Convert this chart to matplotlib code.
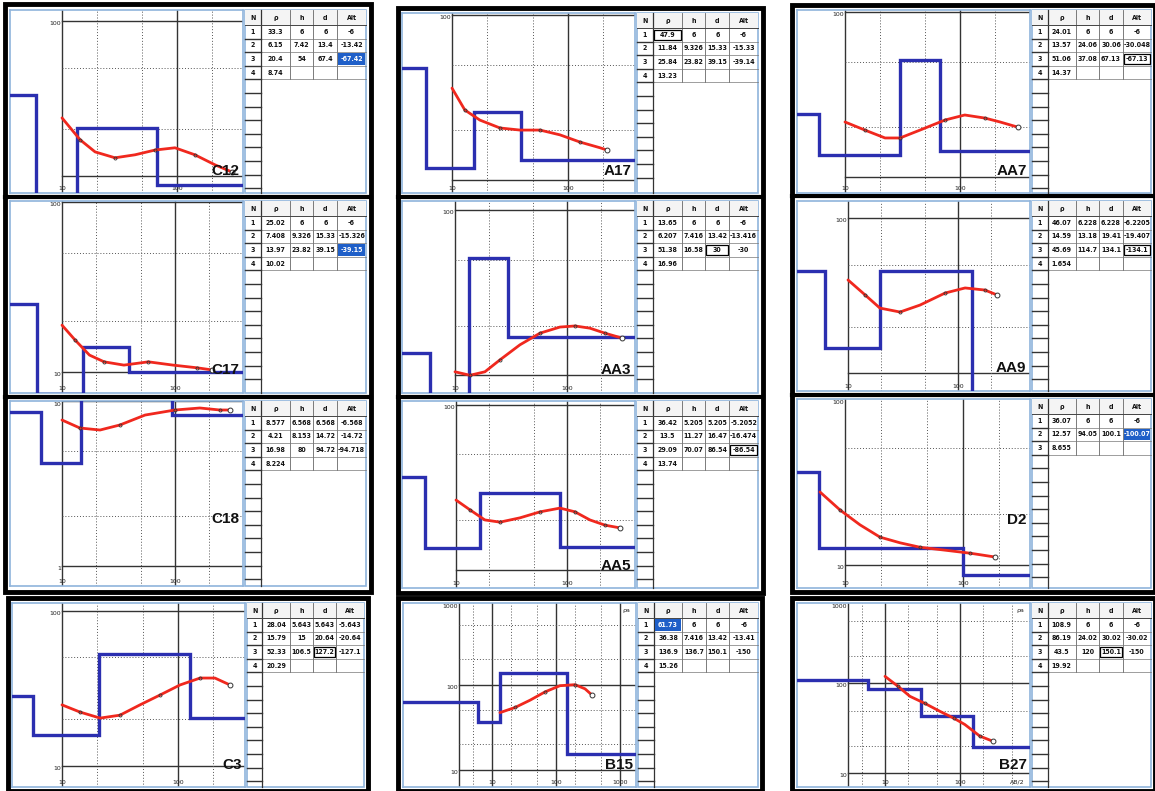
import numpy as np
import matplotlib
matplotlib.use("Agg")
import matplotlib.pyplot as plt
from matplotlib.transforms import blended_transform_factory as btf

W, H = 1155, 791

# ---------------- data ----------------
C12_rho = [33.3, 6.15, 20.4, 8.74]
C12_h = [6, 7.42, 54]
C12_d = [6, 13.4, 67.4]
C12_alt = [-6, -13.42, -67.42]
C12_ab2 = [10, 14.4, 19.4, 28.9, 43.2, 64.4, 96, 143, 214, 301]
C12_rhoa = [23.7, 17.1, 14.3, 13.1, 13.7, 14.7, 15.2, 13.7, 11.8, 10.6]

C17_rho = [25.02, 7.408, 13.97, 10.02]
C17_h = [6, 9.326, 23.82]
C17_d = [6, 15.33, 39.15]
C17_alt = [-6, -15.326, -39.15]
C17_ab2 = [10, 13.0, 17.5, 23.6, 35.3, 58.1, 96, 158, 214]
C17_rhoa = [18.9, 15.5, 12.6, 11.5, 11.0, 11.5, 11.0, 10.6, 10.3]

C18_rho = [8.577, 4.21, 16.98, 8.224]
C18_h = [6.568, 8.153, 80]
C18_d = [6.568, 14.72, 94.72]
C18_alt = [-6.568, -14.72, -94.718]
C18_ab2 = [10, 14.4, 21.7, 32.6, 54.3, 100, 166, 250, 307]
C18_rhoa = [7.67, 6.86, 6.67, 7.16, 8.22, 8.82, 9.07, 8.82, 8.82]

A17_rho = [47.9, 11.84, 25.84, 13.23]
A17_h = [6, 9.326, 23.82]
A17_d = [6, 15.33, 39.15]
A17_alt = [-6, -15.33, -39.14]
A17_ab2 = [10, 12.9, 17.4, 25.9, 38.6, 57.4, 85.3, 127, 189, 217]
A17_rhoa = [36.1, 26.6, 23.1, 20.7, 20.1, 20.1, 18.8, 17.0, 15.7, 15.2]

AA3_rho = [13.65, 6.207, 51.38, 16.96]
AA3_h = [6, 7.416, 16.58]
AA3_d = [6, 13.42, 30]
AA3_alt = [-6, -13.416, -30]
AA3_ab2 = [10, 13.6, 18.5, 25.2, 38.0, 57.4, 86.5, 118, 160, 218, 310]
AA3_rhoa = [10.5, 10.0, 10.5, 12.4, 15.3, 18.0, 19.6, 19.9, 19.3, 18.0, 16.8]

AA5_rho = [36.42, 13.5, 29.09, 13.74]
AA5_h = [5.205, 11.27, 70.07]
AA5_d = [5.205, 16.47, 86.54]
AA5_alt = [-5.2052, -16.474, -86.54]
AA5_ab2 = [10, 13.4, 18.2, 24.9, 37.7, 57.2, 86.5, 118, 161, 220, 300]
AA5_rhoa = [26.4, 23.0, 20.0, 19.4, 20.6, 22.4, 23.6, 22.4, 20.0, 18.6, 17.9]

AA7_rho = [24.01, 13.57, 51.06, 14.37]
AA7_h = [6, 24.06, 37.08]
AA7_d = [6, 30.06, 67.13]
AA7_alt = [-6, -30.048, -67.13]
AA7_ab2 = [10, 14.9, 22.3, 30.1, 44.9, 74.1, 110, 165, 223, 319]
AA7_rhoa = [21.5, 19.2, 17.2, 17.2, 19.2, 22.1, 23.7, 22.7, 21.5, 20.0]

AA9_rho = [46.07, 14.59, 45.69, 1.654]
AA9_h = [6.228, 13.18, 114.7]
AA9_d = [6.228, 19.41, 134.1]
AA9_alt = [-6.2205, -19.407, -134.1]
AA9_ab2 = [10, 14.3, 19.5, 29.7, 45.1, 76.2, 116, 176, 226]
AA9_rhoa = [40.1, 32.1, 26.4, 24.9, 27.6, 33.0, 35.6, 34.5, 32.1]

D2_rho = [36.07, 12.57, 8.655]
D2_h = [6, 94.05]
D2_d = [6, 100.1]
D2_alt = [-6, -100.07]
D2_ab2 = [6.14, 9.1, 13.4, 19.8, 29.3, 43.2, 70.4, 115, 187]
D2_rhoa = [27.2, 21.2, 17.3, 14.6, 13.5, 12.7, 12.2, 11.7, 11.1]

C3_rho = [28.04, 15.79, 52.33, 20.29]
C3_h = [5.643, 15, 106.5]
C3_d = [5.643, 20.64, 127.2]
C3_alt = [-5.643, -20.64, -127.1]
C3_ab2 = [10, 14.3, 21.3, 31.6, 47.0, 70.0, 104, 155, 208, 281]
C3_rhoa = [24.7, 22.2, 20.3, 21.2, 24.7, 28.6, 33.2, 36.8, 36.8, 33.2]

B15_rho = [61.73, 36.38, 136.9, 15.26]
B15_h = [6, 7.416, 136.7]
B15_d = [6, 13.42, 150.1]
B15_alt = [-6, -13.41, -150.0]
B15_ab2 = [13.3, 22.9, 39.2, 67.3, 115, 198, 284, 365]
B15_rhoa = [46.9, 53.9, 65.6, 82.2, 97.2, 100, 89.4, 75.5]

B27_rho = [108.9, 86.19, 43.5, 19.92]
B27_h = [6, 24.02, 120]
B27_d = [6, 30.02, 150.1]
B27_alt = [-6, -30.02, -150.0]
B27_ab2 = [10, 14.9, 21.5, 34.1, 54.1, 83.2, 116, 184, 275]
B27_rhoa = [120, 93, 72, 60, 49, 41, 35, 26, 22.8]

TABLE_HEAD = ["N", "\u03c1", "h", "d", "Alt"]

# ---------------- layout (pixels) ----------------
PANELS = [
    dict(name="C12", data="C12", box=(8, 8, 368, 195), x10=62, dx=115, yref=33.3, ypx=95, dy=155, hi=(3, 4, "fill")),
    dict(name="C17", data="C17", box=(8, 199, 368, 395), x10=62, dx=113, yref=10.02, ypx=372, dy=170, hi=(3, 4, "fill")),
    dict(name="C18", data="C18", box=(8, 399, 368, 588), x10=62, dx=113, yref=4.21, ypx=463, dy=165, hi=None),
    dict(name="A17", data="A17", box=(400, 11, 760, 195), x10=452, dx=116, yref=11.84, ypx=168, dy=165, hi=(1, 1, "box")),
    dict(name="AA3", data="AA3", box=(400, 199, 760, 395), x10=455, dx=112, yref=51.38, ypx=258, dy=165, hi=(3, 3, "box")),
    dict(name="AA5", data="AA5", box=(400, 399, 760, 590), x10=456, dx=111, yref=36.42, ypx=477, dy=165, hi=(3, 4, "box")),
    dict(name="AA7", data="AA7", box=(795, 8, 1153, 195), x10=845, dx=115, yref=51.06, ypx=60, dy=165, hi=(3, 4, "box")),
    dict(name="AA9", data="AA9", box=(795, 199, 1153, 393), x10=848, dx=110, yref=14.59, ypx=348, dy=155, hi=(3, 4, "box")),
    dict(name="D2", data="D2", box=(795, 397, 1153, 590), x10=845, dx=118, yref=12.57, ypx=548, dy=167, hi=(2, 4, "fill")),
    dict(name="C3", data="C3", box=(10, 601, 366, 789), x10=62, dx=116, yref=15.79, ypx=735, dy=155, hi=(3, 3, "box")),
    dict(name="B15", data="B15", box=(401, 601, 760, 789), x10=492, dx=64, yref=36.38, ypx=722, dy=85,
         hi=(1, 1, "fill"), gx0=3.0, axlab=("\u03c1a", None)),
    dict(name="B27", data="B27", box=(795, 601, 1153, 789), x10=885, dx=75, yref=53.4, ypx=708, dy=90,
         hi=(3, 3, "box"), gx0=3.2, axlab=("\u03c1a", "AB/2")),
]
LABEL_POS = {"C18": 0.36, "D2": 0.36}
BLACK_BOXES = [(5, 4, 371, 592), (398, 8, 763, 593), (792, 5, 1155, 592),
               (8, 598, 368, 791), (398, 598, 762, 791), (792, 598, 1155, 791)]
SEPARATORS = [(5, 371, 197), (5, 371, 397), (398, 763, 197), (398, 763, 397),
              (792, 1155, 196), (792, 1155, 395)]

BLUE = "#2b2fb0"
RED = "#f0281e"
FRAME = "#8fb4dc"
HILITE = "#1f5fc8"

fig = plt.figure(figsize=(W / 100, H / 100), dpi=100)
fig.patch.set_facecolor("white")

over = fig.add_axes([0, 0, 1, 1], zorder=0)
over.set_xlim(0, W)
over.set_ylim(H, 0)
over.axis("off")

TFONT = dict(family=["Liberation Sans Narrow", "DejaVu Sans"], fontstretch="condensed",
             fontweight="bold", fontsize=5.0, color="#111111")
SMALL = dict(fontsize=4.5, color="#222222", family=["DejaVu Sans"])


def fmt(v):
    return f"{v:g}"


def draw_table(x0, y0, x1, y1, rho, h, d, alt, hi):
    over.add_patch(plt.Rectangle((x0, y0), x1 - x0, y1 - y0, fc="white", ec=FRAME, lw=1.2, zorder=1))
    widths = np.array([16, 29, 24, 24, 29], float)
    widths = widths / widths.sum() * (x1 - x0)
    edges = x0 + np.concatenate([[0], np.cumsum(widths)])
    hh = 15.0
    rh = 13.6
    nrow = len(rho)
    over.add_patch(plt.Rectangle((x0, y0), x1 - x0, hh, fc="#f4f4f4", ec="none", zorder=1.5))
    for j, t in enumerate(TABLE_HEAD):
        over.text((edges[j] + edges[j + 1]) / 2, y0 + hh / 2 + 0.5, t, ha="center", va="center", zorder=3, **TFONT)
    ybot = y0 + hh + rh * nrow
    for j in range(2, 5):
        over.plot([edges[j], edges[j]], [y0, ybot], color="#666666", lw=0.6, zorder=2)
    over.plot([edges[1], edges[1]], [y0, y1], color="#333333", lw=0.9, zorder=2)
    over.plot([x0, x1], [y0 + hh, y0 + hh], color="#444444", lw=0.7, zorder=2)
    i = 1
    while y0 + hh + rh * i < y1 - 2:
        yy = y0 + hh + rh * i
        if i <= nrow:
            over.plot([x0, x1], [yy, yy], color="#777777", lw=0.5, zorder=2)
        over.plot([x0, edges[1]], [yy, yy], color="#333333", lw=1.0, zorder=2)
        i += 1
    cols = [rho, h, d, alt]
    for i in range(nrow):
        yc = y0 + hh + rh * (i + 0.5)
        over.text((edges[0] + edges[1]) / 2, yc, str(i + 1), ha="center", va="center", zorder=3, **TFONT)
        for j, col in enumerate(cols):
            if i < len(col):
                style = None
                if hi is not None and hi[0] == i + 1 and hi[1] == j + 1:
                    style = hi[2]
                f = dict(TFONT)
                if style == "fill":
                    over.add_patch(plt.Rectangle((edges[j + 1] + 1, yc - rh / 2 + 1), widths[j + 1] - 2, rh - 2,
                                                 fc=HILITE, ec="none", zorder=2.5))
                    f["color"] = "white"
                elif style == "box":
                    over.add_patch(plt.Rectangle((edges[j + 1] + 1, yc - rh / 2 + 1.5), widths[j + 1] - 2, rh - 3,
                                                 fc="none", ec="black", lw=0.9, zorder=2.5))
                over.text((edges[j + 1] + edges[j + 2]) / 2, yc, fmt(col[i]), ha="center", va="center",
                          zorder=3, **f)


def draw_panel(p):
    g = globals()
    key = p["data"]
    rho, h, d, alt = g[key + "_rho"], g[key + "_h"], g[key + "_d"], g[key + "_alt"]
    ab2, rhoa = g[key + "_ab2"], g[key + "_rhoa"]
    bx0, by0, bx1, by1 = p["box"]
    px0, py0, px1, py1 = bx0 + 2, by0 + 2, bx0 + 235, by1 - 2
    ax = fig.add_axes([px0 / W, 1 - py1 / H, (px1 - px0) / W, (py1 - py0) / H], zorder=2)
    ax.set_xscale("log")
    ax.set_yscale("log")
    xl = (10 ** (1 + (px0 - p["x10"]) / p["dx"]), 10 ** (1 + (px1 - p["x10"]) / p["dx"]))
    yl = (p["yref"] * 10 ** ((p["ypx"] - py1) / p["dy"]), p["yref"] * 10 ** ((p["ypx"] - py0) / p["dy"]))
    ax.set_xlim(*xl)
    ax.set_ylim(*yl)
    ax.set_xticks([])
    ax.set_yticks([])
    ax.minorticks_off()
    for s in ax.spines.values():
        s.set_color(FRAME)
        s.set_linewidth(1.2)
    gx0 = p.get("gx0", 10.0)
    ax.axvline(gx0, color="#333333", lw=1.0, zorder=1)
    for e in range(-1, 5):
        v = 10.0 ** e
        if gx0 < v < xl[1]:
            ax.axvline(v, color="#333333", lw=1.0, zorder=1)
        for m in (2, 5):
            if gx0 < m * v < xl[1]:
                ax.axvline(m * v, color="#555555", lw=0.7, ls=(0, (1, 2)), zorder=1)
        if yl[0] < v < yl[1]:
            ax.plot([gx0, xl[1]], [v, v], color="#333333", lw=1.0, zorder=1)
        for m in (2, 5):
            if yl[0] < m * v < yl[1]:
                ax.plot([gx0, xl[1]], [m * v, m * v], color="#555555", lw=0.7, ls=(0, (1, 2)), zorder=1)
    tb = btf(ax.transData, ax.transAxes)
    for e in range(1, 4):
        v = 10.0 ** e
        if xl[0] < v < xl[1] / 1.05:
            ax.text(v, 0.012, f"{int(v)}", transform=tb, ha="center", va="bottom", **SMALL)
    for e in range(0, 4):
        v = 10.0 ** e
        if yl[0] * 1.3 < v < yl[1] * 1.35:
            ax.text(gx0 / 1.02, min(v, yl[1] / 1.02), f"{int(v)}", ha="right", va="top", **SMALL)
    lab = p.get("axlab")
    if lab:
        if lab[0]:
            ax.text(0.975, 0.975, lab[0], transform=ax.transAxes, ha="right", va="top", **SMALL)
        if lab[1]:
            ax.text(0.975, 0.012, lab[1], transform=ax.transAxes, ha="right", va="bottom", **SMALL)
    # model (blue)
    edges = [xl[0] * 0.5] + list(d) + [xl[1] * 2]
    ax.stairs(rho, edges, baseline=None, color=BLUE, lw=2.4, zorder=3)
    # apparent resistivity (red)
    ax.plot(ab2, rhoa, color=RED, lw=2.0, zorder=4, solid_capstyle="round")
    ax.plot(ab2[1:-1:2], rhoa[1:-1:2], ls="none", marker="o", ms=2.2, mfc="none", mec="#333333", mew=0.6, zorder=5)
    ax.plot(ab2[-1], rhoa[-1], ls="none", marker="o", ms=3.5, mfc="white", mec="#333333", mew=0.7, zorder=5)
    ly = LABEL_POS.get(p["name"], 0.12)
    ax.text(0.985, ly, p["name"], transform=ax.transAxes, ha="right", va="center", fontsize=11,
            fontweight="bold", family=["Liberation Sans", "DejaVu Sans"], color="#111111", zorder=6)
    draw_table(bx0 + 237, by0 + 2, bx1 - 2, by1 - 2, rho, h, d, alt, p["hi"])


for p in PANELS:
    draw_panel(p)

for (x0, y0, x1, y1) in BLACK_BOXES:
    over.add_patch(plt.Rectangle((x0, y0), x1 - x0, y1 - y0, fc="none", ec="black", lw=3.5, zorder=5))
for (x0, x1, y) in SEPARATORS:
    over.plot([x0, x1], [y, y], color="black", lw=3.0, zorder=5)

fig.savefig("out.png", dpi=100)
